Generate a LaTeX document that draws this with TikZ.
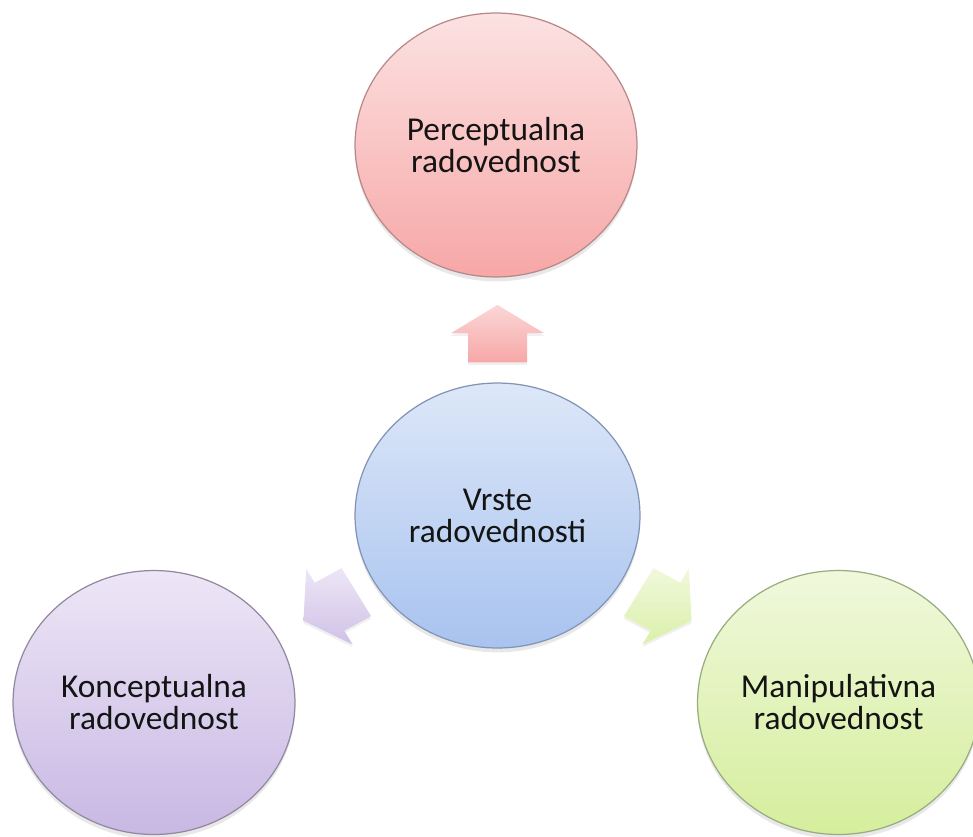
\documentclass[tikz,border=0pt]{standalone}
\usepackage{fontspec}
\setmainfont{Carlito}
\usetikzlibrary{shapes.geometric,shadows}
\definecolor{pinktop}{HTML}{FCE2E2}
\definecolor{pinkbot}{HTML}{F7A7A7}
\definecolor{pinkline}{HTML}{B88888}
\definecolor{bluetop}{HTML}{DDE7F8}
\definecolor{bluebot}{HTML}{A8C3EF}
\definecolor{blueline}{HTML}{8294B4}
\definecolor{lavtop}{HTML}{EDE6F6}
\definecolor{lavbot}{HTML}{C8B8E3}
\definecolor{lavline}{HTML}{9288A0}
\definecolor{greentop}{HTML}{F0F8DC}
\definecolor{greenbot}{HTML}{D5EE9C}
\definecolor{greenline}{HTML}{98AC80}
\begin{document}
\begin{tikzpicture}[x=0.02cm,y=0.02cm,
  bubble/.style={ellipse, draw, line width=0.7pt, inner sep=0pt, align=center,
    font=\fontsize{19}{18.2}\selectfont, text=black!92,
    minimum width=5.64cm, minimum height=5.28cm,
    drop shadow={opacity=0.18, shadow xshift=0pt, shadow yshift=-2.5pt}},
  blockarrow/.style={draw=none,
    drop shadow={opacity=0.12, shadow xshift=0pt, shadow yshift=-1.5pt}}]
\useasboundingbox (0,0) rectangle (973,-836);

\node[bubble, draw=pinkline, top color=pinktop, bottom color=pinkbot] (perc) at (496,-145) {Perceptualna\\radovednost};
\node[bubble, draw=blueline, top color=bluetop, bottom color=bluebot, minimum width=5.7cm, minimum height=5.3cm] (core) at (497.5,-515.5) {Vrste\\radovednosti};
\node[bubble, draw=lavline, top color=lavtop, bottom color=lavbot] (konc) at (154,-702.5) {Konceptualna\\radovednost};
\node[bubble, draw=greenline, top color=greentop, bottom color=greenbot] (mani) at (838.5,-702.5) {Manipulativna\\radovednost};

\begin{scope}[shift={(core.center)}, yscale=0.94]
  \path[blockarrow, top color=pinktop!80!pinkbot, bottom color=pinkbot, rotate=90]
    (163,-29.5) -- (194,-29.5) -- (194,-46.5) -- (224,0) -- (194,46.5) -- (194,29.5) -- (163,29.5) -- cycle;
  \path[blockarrow, top color=lavtop, bottom color=lavbot!80!lavtop, rotate=210]
    (163,-29.5) -- (194,-29.5) -- (194,-46.5) -- (224,0) -- (194,46.5) -- (194,29.5) -- (163,29.5) -- cycle;
  \path[blockarrow, top color=greentop, bottom color=greenbot!80!greentop, rotate=330]
    (163,-29.5) -- (194,-29.5) -- (194,-46.5) -- (224,0) -- (194,46.5) -- (194,29.5) -- (163,29.5) -- cycle;
\end{scope}
\end{tikzpicture}
\end{document}
